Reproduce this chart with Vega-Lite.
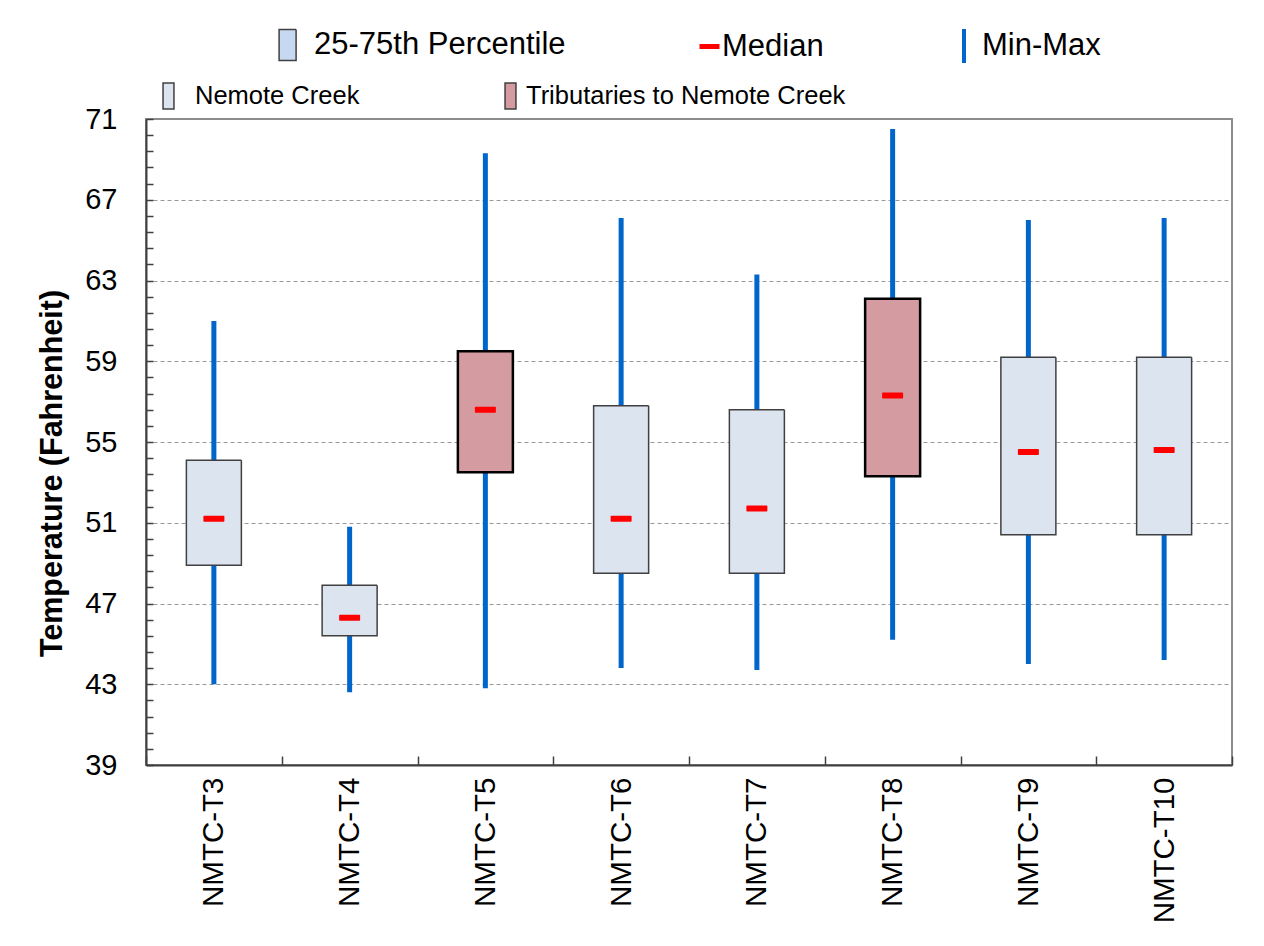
{
  "$schema": "https://vega.github.io/schema/vega-lite/v6.json",
  "width": 1086,
  "height": 646,
  "autosize": {"type": "none"},
  "padding": {"left": 146, "top": 119, "right": 32, "bottom": 181},
  "background": "white",
  "config": {
    "font": "Liberation Sans",
    "view": {"stroke": "#8c8c8c", "strokeWidth": 2},
    "axis": {"labelFont": "Liberation Sans", "titleFont": "Liberation Sans", "labelColor": "#000", "titleColor": "#000"},
    "legend": {"labelLimit": 0}
  },
  "data": {
    "values": [
      {"site": "NMTC-T3", "group": "Nemote Creek", "min": 43.0, "q1": 48.9, "median": 51.2, "q3": 54.1, "max": 61.0},
      {"site": "NMTC-T4", "group": "Nemote Creek", "min": 42.6, "q1": 45.4, "median": 46.3, "q3": 47.9, "max": 50.8},
      {"site": "NMTC-T5", "group": "Tributaries to Nemote Creek", "min": 42.8, "q1": 53.5, "median": 56.6, "q3": 59.5, "max": 69.3},
      {"site": "NMTC-T6", "group": "Nemote Creek", "min": 43.8, "q1": 48.5, "median": 51.2, "q3": 56.8, "max": 66.1},
      {"site": "NMTC-T7", "group": "Nemote Creek", "min": 43.7, "q1": 48.5, "median": 51.7, "q3": 56.6, "max": 63.3},
      {"site": "NMTC-T8", "group": "Tributaries to Nemote Creek", "min": 45.2, "q1": 53.3, "median": 57.3, "q3": 62.1, "max": 70.5},
      {"site": "NMTC-T9", "group": "Nemote Creek", "min": 44.0, "q1": 50.4, "median": 54.5, "q3": 59.2, "max": 66.0},
      {"site": "NMTC-T10", "group": "Nemote Creek", "min": 44.2, "q1": 50.4, "median": 54.6, "q3": 59.2, "max": 66.1}
    ]
  },
  "encoding": {
    "x": {
      "field": "site",
      "type": "nominal",
      "sort": null,
      "scale": {"paddingInner": 0, "paddingOuter": 0},
      "axis": {
        "title": null,
        "tickBand": "extent",
        "tickSize": -9,
        "tickColor": "#404040",
        "tickWidth": 1.5,
        "domainColor": "#404040",
        "domainWidth": 2,
        "labelAngle": 270,
        "labelAlign": "right",
        "labelBaseline": "middle",
        "labelFontSize": 29.5,
        "labelPadding": 21
      }
    }
  },
  "layer": [
    {
      "mark": {"type": "rule", "strokeWidth": 5, "strokeCap": "butt"},
      "encoding": {
        "y": {
          "field": "min",
          "type": "quantitative",
          "scale": {"domain": [39, 71], "nice": false, "zero": false},
          "axis": {
            "title": "Temperature (Fahrenheit)",
            "titleFontSize": 30.5,
            "titleFontWeight": "bold",
            "titleAngle": 270,
            "titleX": -85,
            "titleY": 354,
            "titleAlign": "center",
            "titleBaseline": "alphabetic",
            "titleLimit": 0,
            "tickCount": 100,
            "values": [39, 39.8, 40.6, 41.4, 42.2, 43, 43.8, 44.6, 45.4, 46.2, 47, 47.8, 48.6, 49.4, 50.2, 51, 51.8, 52.6, 53.4, 54.2, 55, 55.8, 56.6, 57.4, 58.2, 59, 59.8, 60.6, 61.4, 62.2, 63, 63.8, 64.6, 65.4, 66.2, 67, 67.8, 68.6, 69.4, 70.2, 71],
            "labelExpr": "abs(datum.value - 39 - 4 * round((datum.value - 39) / 4)) < 0.01 ? format(datum.value, '.0f') : ''",
            "labelFontSize": 29,
            "labelPadding": 36,
            "labelOverlap": false,
            "labelBound": false,
            "tickSize": -7,
            "tickColor": "#404040",
            "tickWidth": 1.5,
            "domainColor": "#404040",
            "domainWidth": 2,
            "grid": true,
            "gridColor": "#999999",
            "gridWidth": 1,
            "gridDash": [4, 3],
            "gridOpacity": {
              "condition": {"test": "datum.value > 42.5 && datum.value < 67.5 && abs(datum.value - 39 - 4 * round((datum.value - 39) / 4)) < 0.01", "value": 1},
              "value": 0
            }
          }
        },
        "y2": {"field": "max"},
        "stroke": {
          "datum": "Min-Max",
          "scale": {"domain": ["Min-Max"], "range": ["#0066CC"]},
          "legend": {
            "title": null,
            "orient": "none",
            "legendX": 799,
            "legendY": -92,
            "padding": 0,
            "symbolType": "M0,-1L0,1",
            "symbolSize": 1156,
            "symbolStrokeWidth": 4,
            "labelFont": "Liberation Sans",
            "labelFontSize": 31,
            "labelColor": "#000",
            "labelOffset": -1
          }
        }
      }
    },
    {
      "mark": {"type": "bar", "width": 55, "stroke": "#404040", "strokeWidth": 1.5},
      "encoding": {
        "y": {"field": "q1", "type": "quantitative"},
        "y2": {"field": "q3"},
        "fill": {
          "field": "group",
          "type": "nominal",
          "scale": {"domain": ["Nemote Creek", "Tributaries to Nemote Creek"], "range": ["#DCE4F0", "#D49CA1"]},
          "legend": {
            "title": null,
            "orient": "none",
            "direction": "horizontal",
            "legendX": 8.5,
            "legendY": -37,
            "padding": 0,
            "symbolType": "M-0.42,-1L0.42,-1L0.42,1L-0.42,1Z",
            "symbolSize": 676,
            "symbolStrokeColor": "#404040",
            "symbolStrokeWidth": 1.5,
            "labelFont": "Liberation Sans",
            "labelFontSize": 25.5,
            "labelColor": "#000",
            "labelOffset": 12.5,
            "columnPadding": 137,
            "encode": {
              "symbols": {
                "update": {
                  "fill": {"signal": "datum.value === 'Nemote Creek' ? '#C6D9F1' : '#D99694'"},
                  "stroke": {"value": "#404040"},
                  "strokeWidth": {"value": 1.5},
                  "opacity": {"value": 1}
                }
              },
              "labels": {
                "update": {
                  "dx": {"signal": "datum.value === 'Nemote Creek' ? 0 : -11"}
                }
              }
            }
          }
        },
        "strokeDash": {
          "datum": "25-75th Percentile",
          "scale": {"domain": ["25-75th Percentile"], "range": [[1, 0]]},
          "legend": {
            "title": null,
            "orient": "none",
            "legendX": 123.6,
            "legendY": -92,
            "padding": 0,
            "symbolType": "M-0.5,-0.91L0.5,-0.91L0.5,0.91L-0.5,0.91Z",
            "symbolSize": 1156,
            "symbolFillColor": "#C6D9F1",
            "symbolStrokeColor": "#404040",
            "symbolStrokeWidth": 1.5,
            "symbolDash": [1, 0],
            "labelFont": "Liberation Sans",
            "labelFontSize": 31,
            "labelColor": "#000",
            "labelOffset": 8.4,
            "encode": {
              "symbols": {
                "update": {
                  "fill": {"value": "#C6D9F1"},
                  "stroke": {"value": "#404040"},
                  "strokeWidth": {"value": 1.5},
                  "opacity": {"value": 1}
                }
              }
            }
          }
        }
      }
    },
    {
      "transform": [{"filter": "datum.group === 'Tributaries to Nemote Creek'"}],
      "mark": {"type": "bar", "width": 55, "fill": "transparent", "stroke": "#000000", "strokeWidth": 2.5},
      "encoding": {
        "y": {"field": "q1", "type": "quantitative"},
        "y2": {"field": "q3"}
      }
    },
    {
      "mark": {"type": "tick", "thickness": 6, "size": 21, "cornerRadius": 1, "opacity": 1},
      "encoding": {
        "y": {"field": "median", "type": "quantitative"},
        "color": {
          "datum": "Median",
          "scale": {"domain": ["Median"], "range": ["#FF0000"]},
          "legend": {
            "title": null,
            "orient": "none",
            "legendX": 548,
            "legendY": -88,
            "padding": 0,
            "symbolType": "M-1,-0.25L1,-0.25L1,0.25L-1,0.25Z",
            "symbolSize": 400,
            "symbolStrokeWidth": 0,
            "symbolOpacity": 1,
            "labelFont": "Liberation Sans",
            "labelFontSize": 31,
            "labelColor": "#000",
            "labelOffset": -3
          }
        }
      }
    }
  ]
}
